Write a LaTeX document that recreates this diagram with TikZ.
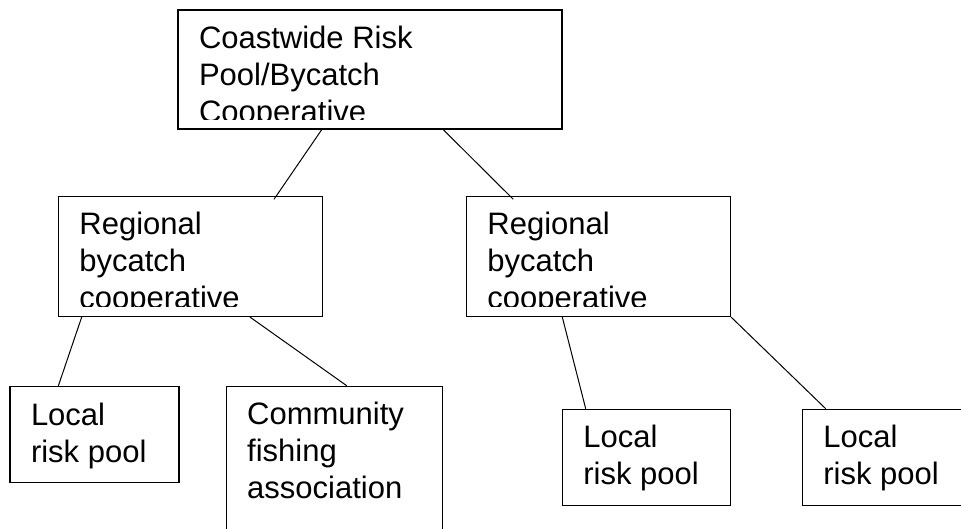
\documentclass[tikz,border=0pt]{standalone}
\usepackage{fontspec}
\setmainfont{Liberation Sans}

\begin{document}
\begin{tikzpicture}[x=1pt, y=-1pt,
    orgbox/.style={draw, line width=1.4pt, anchor=north west, inner sep=0pt},
    orgtext/.style={anchor=north west, align=left, inner sep=0pt, font=\fontsize{31}{37}\selectfont},
    link/.style={line width=1pt}]
    \useasboundingbox (0,0) rectangle (961,529);
    \clip (0,0) rectangle (961,529);

    % Define boxes
    \node[orgbox, minimum width=384pt, minimum height=119pt] (coast) at (177.3,9.3) {};
    \node[orgbox, minimum width=264pt, minimum height=120pt] (regL) at (57.7,195.7) {};
    \node[orgbox, minimum width=264pt, minimum height=120pt] (regR) at (465.7,195.7) {};
    \node[orgbox, minimum width=169pt, minimum height=96pt] (localA) at (9.3,386) {};
    \node[orgbox, minimum width=216pt, minimum height=160pt] (community) at (226,385.7) {};
    \node[orgbox, minimum width=168pt, minimum height=96pt] (localB) at (561.7,408.7) {};
    \node[orgbox, minimum width=169pt, minimum height=96pt] (localC) at (801.7,408.7) {};

    % Box texts (the three-line ones are cut off at the bottom)
    \begin{scope}
        \clip (coast.north west) rectangle ([yshift=10.5pt]coast.south east);
        \node[orgtext] (coastText) at ([shift={(21.5pt,-16.4pt)}]coast.north west) {Coastwide Risk\\Pool/Bycatch\\Cooperative};
    \end{scope}
    \begin{scope}
        \clip (regL.north west) rectangle ([yshift=10.5pt]regL.south east);
        \node[orgtext] (regLText) at ([shift={(21.5pt,-16.4pt)}]regL.north west) {Regional\\bycatch\\cooperative};
    \end{scope}
    \begin{scope}
        \clip (regR.north west) rectangle ([yshift=10.5pt]regR.south east);
        \node[orgtext] (regRText) at ([shift={(21.5pt,-16.4pt)}]regR.north west) {Regional\\bycatch\\cooperative};
    \end{scope}
    \node[orgtext] (localAText) at ([shift={(21.5pt,-16.4pt)}]localA.north west) {Local\\risk pool};
    \node[orgtext] (communityText) at ([shift={(21pt,-16.4pt)}]community.north west) {Community\\fishing\\association};
    \node[orgtext] (localBText) at ([shift={(21.5pt,-16.4pt)}]localB.north west) {Local\\risk pool};
    \node[orgtext] (localCText) at ([shift={(21.5pt,-16.4pt)}]localC.north west) {Local\\risk pool};

    % Draw lines
    \draw[link] ([xshift=144.4pt]coast.south west) -- ([shift={(216.3pt,-3.6pt)}]regL.north west);
    \draw[link] ([xshift=266pt]coast.south west) -- ([shift={(47.6pt,-3.6pt)}]regR.north west);
    \draw[link] ([xshift=24pt]regL.south west) -- ([xshift=49pt]localA.north west);
    \draw[link] ([xshift=192.3pt]regL.south west) -- ([xshift=120.7pt]community.north west);
    \draw[link] ([xshift=96.6pt]regR.south west) -- ([xshift=24pt]localB.north west);
    \draw[link] (regR.south east) -- ([xshift=24pt]localC.north west);
\end{tikzpicture}
\end{document}
